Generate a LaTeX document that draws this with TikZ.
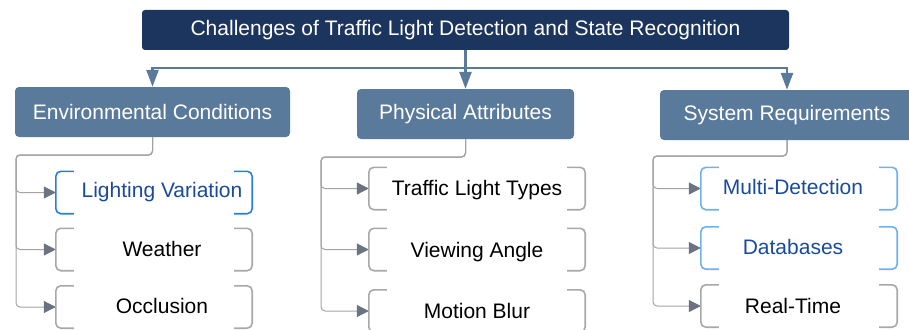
\documentclass[tikz,border=0pt]{standalone}
\usepackage{fontspec}
\setmainfont{Liberation Sans}
\usetikzlibrary{arrows.meta}

\definecolor{navy}{HTML}{1C355E}
\definecolor{slate}{HTML}{5A7A9C}
\definecolor{wire}{HTML}{A3A3A3}
\definecolor{tipgray}{HTML}{6B7280}
\definecolor{darkblue}{HTML}{1A4A9C}
\definecolor{brightblue}{HTML}{2A7DE1}
\definecolor{paleblue}{HTML}{6FB0F0}
\definecolor{bracketgray}{HTML}{A8A8A8}

\tikzset{
  txt/.style={font=\fontsize{21}{25}\selectfont},
  titlebox/.style={txt, fill=navy, text=white, rounded corners=3pt,
    minimum width=647pt, minimum height=40pt, inner sep=0pt},
  groupbox/.style={txt, fill=slate, text=white, rounded corners=4pt,
    minimum height=50pt, inner sep=0pt},
  leafbox/.style={minimum width=196pt, minimum height=42pt, inner sep=0pt},
  leaftext/.style={txt, text=black},
  bluetext/.style={txt, text=darkblue},
  bracket/.style={line width=1.6pt, rounded corners=5pt},
  topline/.style={draw=slate, line width=2.6pt,
    -{Triangle[length=17pt,width=12pt]}},
  leafline/.style={draw=wire, line width=1pt, rounded corners=4pt,
    -{Triangle[length=12pt,width=12pt,color=tipgray]}},
}

% brackets drawn on both sides of a leaf box
\newcommand{\bracketbox}[2]{%
  \draw[bracket, #2] ([xshift=18pt]#1.north west) -- (#1.north west)
     -- (#1.south west) -- ([xshift=18pt]#1.south west);
  \draw[bracket, #2] ([xshift=-18pt]#1.north east) -- (#1.north east)
     -- (#1.south east) -- ([xshift=-18pt]#1.south east);
}

\begin{document}
\begin{tikzpicture}[x=1pt,y=-1pt]
\useasboundingbox (0,0) rectangle (909,329);
\clip (0,0) rectangle (909,329);

% title and groups
\node[titlebox] (title) at (465.5,30) {Challenges of Traffic Light Detection and State Recognition};
\node[groupbox, minimum width=275pt] (env) at (152.5,112) {Environmental Conditions};
\node[groupbox, minimum width=217pt] (phys) at (465.5,114) {Physical Attributes};
\node[groupbox, minimum width=254pt] (sys) at (787,115) {System Requirements};

\coordinate (hub) at (465.5,68);
\draw[topline] (title.south) -- (hub) -| (env.north);
\draw[topline] (hub) -- (phys.north);
\draw[topline] (hub) -| (sys.north);

% environmental conditions
\node[leafbox, label={[bluetext, xshift=8pt]center:Lighting Variation}] (e1) at (154,192.5) {};
\node[leafbox, label={[leaftext, xshift=8pt, yshift=1pt]center:Weather}] (e2) at (154,249.5) {};
\node[leafbox, label={[leaftext, xshift=8pt, yshift=1pt]center:Occlusion}] (e3) at (154,307) {};
\coordinate (ebus) at (16,155);
\foreach \n in {e1,e2,e3}
  \draw[leafline] (env.south) |- (ebus) |- (\n.west);
\bracketbox{e1}{draw=brightblue}
\bracketbox{e2}{draw=bracketgray}
\bracketbox{e3}{draw=bracketgray}

% physical attributes
\node[leafbox, minimum width=216pt, label={[leaftext, yshift=-2pt]center:Traffic Light Types}] (p1) at (477,188.5) {};
\node[leafbox, minimum width=216pt, label={[leaftext, yshift=-3pt]center:Viewing Angle}] (p2) at (477,249.5) {};
\node[leafbox, minimum width=216pt, label={[leaftext]center:Motion Blur}] (p3) at (477,311) {};
\coordinate (pbus) at (321,157);
\foreach \n in {p1,p2,p3}
  \draw[leafline] (phys.south) |- (pbus) |- (\n.west);
\bracketbox{p1}{draw=bracketgray}
\bracketbox{p2}{draw=bracketgray}
\bracketbox{p3}{draw=bracketgray}

% system requirements
\node[leafbox, label={[bluetext, xshift=-6pt, yshift=2pt]center:Multi-Detection}] (s1) at (799,188.5) {};
\node[leafbox, label={[bluetext, xshift=-6pt, yshift=1pt]center:Databases}] (s2) at (799,248) {};
\node[leafbox, label={[leaftext, xshift=-6pt]center:Real-Time}] (s3) at (799,306) {};
\coordinate (sbus) at (653,156);
\foreach \n in {s1,s2,s3}
  \draw[leafline] (sys.south) |- (sbus) |- (\n.west);
\bracketbox{s1}{draw=paleblue}
\bracketbox{s2}{draw=paleblue}
\bracketbox{s3}{draw=bracketgray}
\end{tikzpicture}
\end{document}
